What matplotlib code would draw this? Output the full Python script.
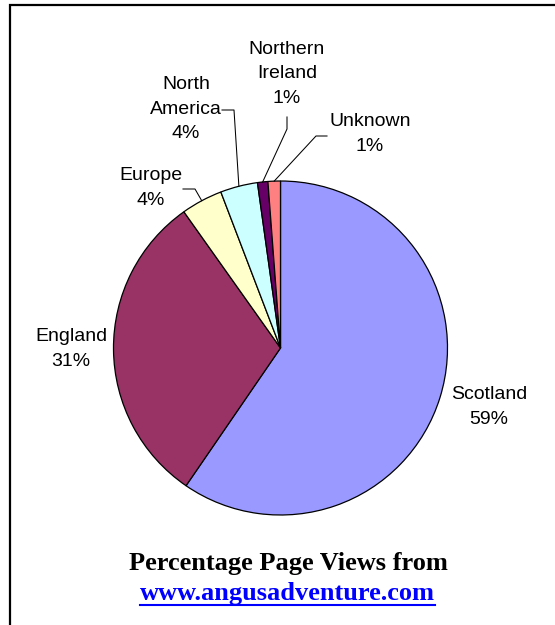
import numpy as np
import matplotlib.pyplot as plt

W, H = 555, 625  # output size in pixels

# Data
regions = ["Scotland", "England", "Europe", "North\nAmerica", "Northern\nIreland", "Unknown"]
shares = [59.45, 30.55, 4.0, 3.6, 1.0, 1.2]
colors = ["#9999FF", "#993366", "#FFFFCC", "#CCFFFF", "#660066", "#FF8080"]

# Layout (pixel coordinates, origin top-left)
center = (280.5, 348)
radius = 167
label_pos = [(489, 407), (71, 349), (151, 188), (186, 109), (287, 74), (370, 134)]
# leader lines: text end -> elbow, then on to the slice edge
leaders = {
    2: [(183, 189), (195, 189)],
    3: [(222, 110), (234, 110)],
    4: [(287, 117), (287, 129)],
    5: [(327, 136), (316, 136)],
}

fig = plt.figure(figsize=(W / 100, H / 100), dpi=100)
ax = fig.add_axes([0, 0, 1, 1])

# y axis is flipped, so counterclock in data = clockwise on screen
wedges, _ = ax.pie(shares, colors=colors, startangle=-90, counterclock=True,
                   center=center, radius=radius, frame=False,
                   wedgeprops=dict(edgecolor="black", linewidth=0.9))
ax.set_xlim(0, W)
ax.set_ylim(H, 0)
ax.set_aspect("equal")
ax.axis("off")

label_font = dict(family="Liberation Sans", fontsize=14)
for i, (name, val) in enumerate(zip(regions, shares)):
    x, y = label_pos[i]
    ax.text(x, y, f"{name}\n{round(val)}%", ha="center", va="center",
            linespacing=1.6, **label_font)
    if i in leaders:
        w = wedges[i]
        ang = np.deg2rad((w.theta1 + w.theta2) / 2)
        ex = center[0] + radius * np.cos(ang)
        ey = center[1] + radius * np.sin(ang)
        pts = leaders[i] + [(ex, ey)]
        ax.plot([p[0] for p in pts], [p[1] for p in pts], color="black", lw=0.75)

# border (frame continues past the right and bottom edges)
ax.plot([10, 10, W + 5], [H + 5, 5, 5], color="black", lw=1.6, solid_joinstyle="miter")

title_font = dict(family="Liberation Serif", fontsize=19, fontweight="bold")
ax.text(288, 570, "Percentage Page Views from", ha="center", va="baseline", **title_font)
url = ax.text(287.5, 600, "www.angusadventure.com", ha="center", va="baseline",
              color="#0000FF", **title_font)

# underline the link
fig.canvas.draw()
bb = url.get_window_extent().transformed(ax.transData.inverted())
ax.plot([min(bb.x0, bb.x1), max(bb.x0, bb.x1)], [605, 605], color="#0000FF", lw=1.5)

fig.savefig("out.png", dpi=100)
